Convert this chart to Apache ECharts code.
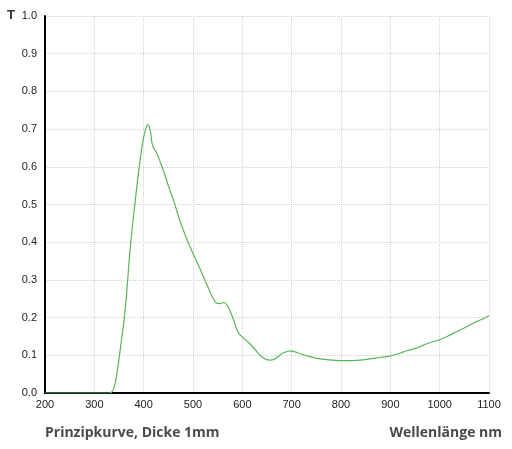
<!DOCTYPE html>
<html>
<head>
<meta charset="utf-8">
<script src="https://cdn.jsdelivr.net/npm/echarts@6/dist/echarts.min.js"></script>
<style>html,body{margin:0;padding:0;background:#fff}#c{width:512px;height:449px}</style>
</head>
<body>
<div id="c"></div>
<script>
const wavelengths = [200, 300, 330, 335, 340, 345, 350, 355, 360, 365, 372, 382, 391, 398, 404, 408, 411, 414, 417, 420, 424, 430, 440, 450, 462, 474, 487, 500, 514, 524, 534, 542, 548, 555, 562, 568, 575, 582, 589, 595, 605, 616, 626, 636, 646, 656, 666, 676, 686, 697, 707, 717, 734, 751, 775, 798, 822, 845, 872, 899, 916, 933, 953, 967, 981, 1001, 1018, 1035, 1051, 1068, 1085, 1100];
const transmission = [0, 0, 0, 0.002, 0.015, 0.045, 0.09, 0.14, 0.19, 0.255, 0.375, 0.50, 0.60, 0.665, 0.70, 0.712, 0.708, 0.69, 0.662, 0.65, 0.642, 0.625, 0.59, 0.55, 0.505, 0.455, 0.41, 0.37, 0.33, 0.30, 0.27, 0.248, 0.238, 0.237, 0.24, 0.235, 0.218, 0.195, 0.168, 0.155, 0.143, 0.13, 0.115, 0.10, 0.09, 0.087, 0.09, 0.10, 0.108, 0.112, 0.109, 0.104, 0.097, 0.092, 0.088, 0.086, 0.086, 0.088, 0.093, 0.098, 0.104, 0.112, 0.119, 0.127, 0.134, 0.142, 0.152, 0.163, 0.173, 0.185, 0.195, 0.205];
const yAxisTitle = 'T';
const captionLeft = 'Prinzipkurve, Dicke 1mm';
const captionRight = 'Wellenlänge nm';

const data = wavelengths.map((w, i) => [w, transmission[i]]);
const chart = echarts.init(document.getElementById('c'), null, {renderer: 'canvas'});
chart.setOption({
  animation: false,
  grid: {left: 45, right: 23, top: 16, bottom: 56, containLabel: false},
  xAxis: {
    type: 'value', min: 200, max: 1100, interval: 100,
    axisLine: {show: true, onZero: false, lineStyle: {color: '#000', width: 2}},
    axisTick: {show: false},
    axisLabel: {color: '#222', fontSize: 11, fontFamily: 'Liberation Sans, Arial, sans-serif', margin: 6,
      formatter: v => String(v)},
    splitLine: {show: true, lineStyle: {color: '#d2d2d2', type: 'dotted', width: 1}}
  },
  yAxis: {
    type: 'value', min: 0, max: 1, interval: 0.1,
    axisLine: {show: true, lineStyle: {color: '#000', width: 2}},
    axisTick: {show: false},
    axisLabel: {color: '#222', fontSize: 11, fontFamily: 'Liberation Sans, Arial, sans-serif', margin: 8,
      formatter: v => v.toFixed(1)},
    splitLine: {show: true, lineStyle: {color: '#d2d2d2', type: 'dotted', width: 1}}
  },
  series: [{
    type: 'line', data: data, smooth: 0.2, showSymbol: false,
    lineStyle: {color: '#5ab55a', width: 1.2}
  }],
  graphic: [
    {type: 'text', left: 7, top: 9, style: {text: yAxisTitle, fill: '#333', font: 'bold 13px "Liberation Sans", Arial, sans-serif'}},
    {type: 'text', left: 45, top: 426, style: {text: captionLeft, fill: '#4a4a4a', font: 'bold 14px "Open Sans", sans-serif'}},
    {type: 'text', right: 10, top: 426, style: {text: captionRight, fill: '#4a4a4a', font: 'bold 14px "Open Sans", sans-serif'}}
  ]
});
</script>
</body>
</html>
